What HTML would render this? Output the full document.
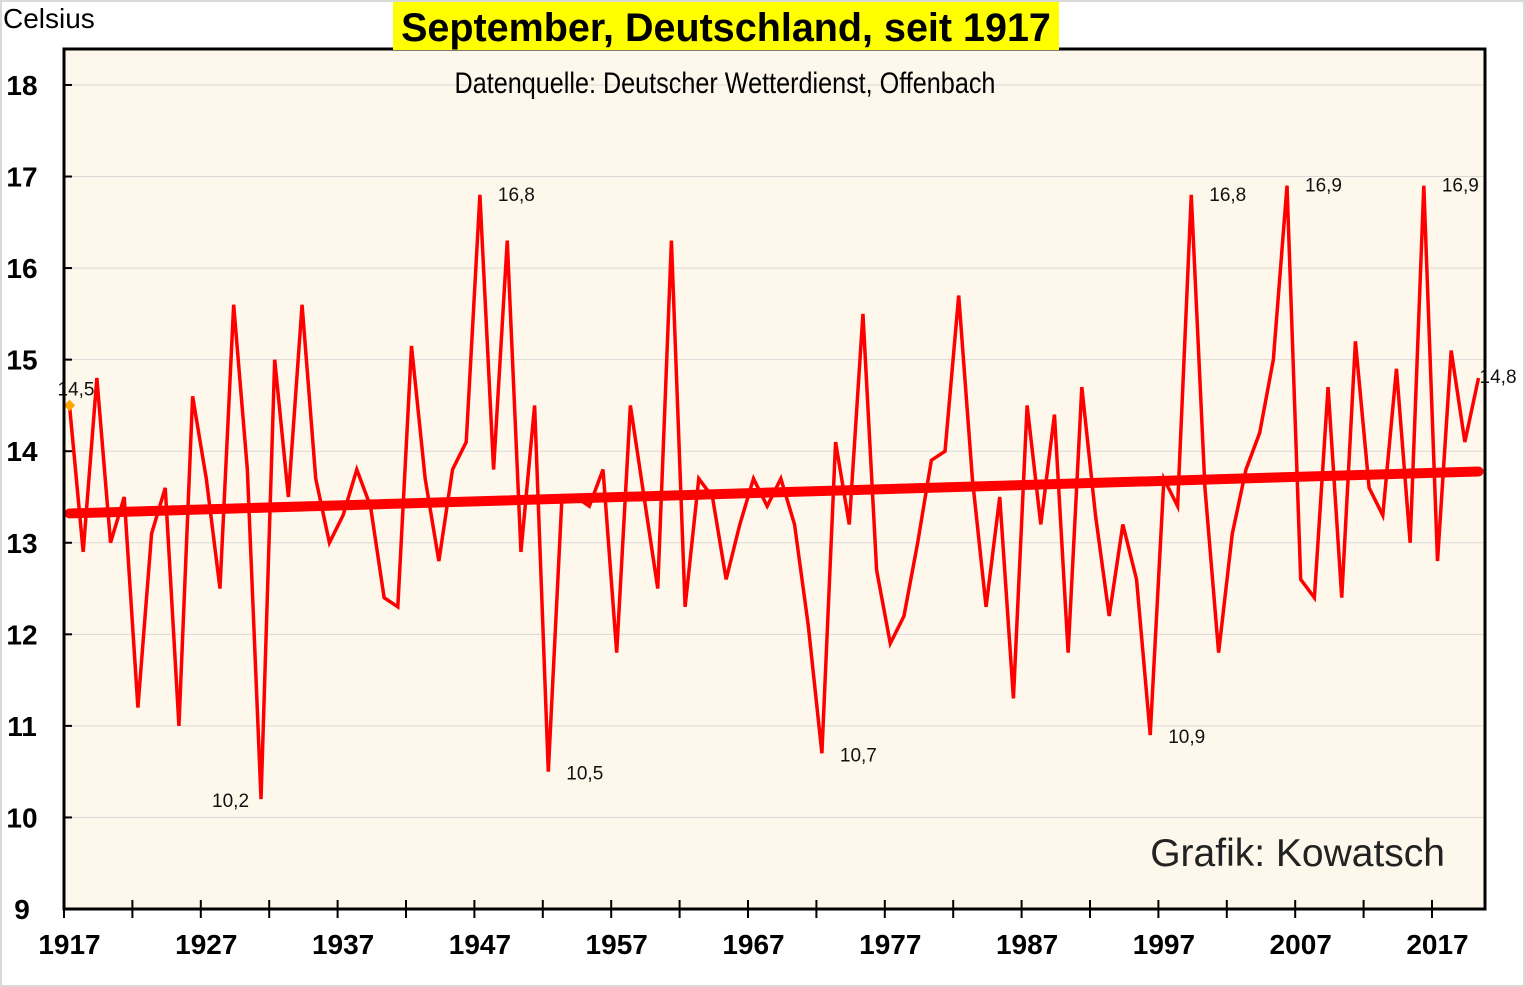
<!DOCTYPE html>
<html><head><meta charset="utf-8"><style>
html,body{margin:0;padding:0;background:#fff}
svg{display:block;font-family:"Liberation Sans",sans-serif}
</style></head><body>
<svg id="c" width="1525" height="987" xmlns="http://www.w3.org/2000/svg">
<rect x="1" y="1" width="1523" height="985" fill="#fff" stroke="#d9d9d9" stroke-width="2"/>
<rect x="64" y="49" width="1421" height="860" fill="#fef8ec"/>
<g id="grid"></g>
<g id="axes"></g>
<g id="series"></g>
<rect x="64" y="49" width="1421" height="860" fill="none" stroke="#000" stroke-width="3"/>
<rect x="393" y="2" width="666" height="48" fill="#ffff00"/>
<text x="726" y="41" text-anchor="middle" font-size="39.5" font-weight="bold">September, Deutschland, seit 1917</text>
<text x="725" y="93" text-anchor="middle" font-size="30" transform="translate(725 0) scale(0.84 1) translate(-725 0)">Datenquelle: Deutscher Wetterdienst, Offenbach</text>
<text x="3" y="28" font-size="28">Celsius</text>
<text x="1445" y="866" text-anchor="end" font-size="39" fill="#222">Grafik: Kowatsch</text>
</svg>
<script>
const years = [];
for (let y = 1917; y <= 2020; y++) years.push(y);
const temps = [14.5,12.9,14.8,13.0,13.5,11.2,13.1,13.6,11.0,14.6,13.7,12.5,15.6,13.8,10.2,15.0,13.5,15.6,13.7,13.0,
13.3,13.8,13.4,12.4,12.3,15.15,13.7,12.8,13.8,14.1,16.8,13.8,16.3,12.9,14.5,10.5,13.5,13.5,13.4,13.8,
11.8,14.5,13.5,12.5,16.3,12.3,13.7,13.5,12.6,13.2,13.7,13.4,13.7,13.2,12.1,10.7,14.1,13.2,15.5,12.7,
11.9,12.2,13.0,13.9,14.0,15.7,13.7,12.3,13.5,11.3,14.5,13.2,14.4,11.8,14.7,13.3,12.2,13.2,12.6,10.9,
13.7,13.4,16.8,13.6,11.8,13.1,13.8,14.2,15.0,16.9,12.6,12.4,14.7,12.4,15.2,13.6,13.3,14.9,13.0,16.9,
12.8,15.1,14.1,14.8];
const yTicks = [9,10,11,12,13,14,15,16,17,18];
const xLabels = [1917,1927,1937,1947,1957,1967,1977,1987,1997,2007,2017];
const annotYears = [1917,1931,1947,1952,1972,1996,1999,2006,2016,2020];
const annotText = ["14,5","10,2","16,8","10,5","10,7","10,9","16,8","16,9","16,9","14,8"];

const X = y => 69.5 + (y - 1917) * 13.68;
const Y = v => 909 - (v - 9) * 91.56;
const NS = "http://www.w3.org/2000/svg";
function mk(tag, parent, attrs){const e=document.createElementNS(NS,tag);for(const k in attrs)e.setAttribute(k,attrs[k]);parent.appendChild(e);return e;}
const grid=document.getElementById('grid'), axes=document.getElementById('axes'), ser=document.getElementById('series');

yTicks.forEach(v=>{
  if(v>9){const g=mk('line',grid,{x1:64,x2:1485,y1:Y(v),y2:Y(v),stroke:'#d9d9d9','stroke-width':1});
  
  }
  const t=mk('line',axes,{x1:64,x2:72,y1:Y(v),y2:Y(v),stroke:'#000','stroke-width':2});
  
  
  const l=mk('text',axes,{x:22,y:Y(v)+10,'text-anchor':'middle','font-size':28,'font-weight':'bold'});
  l.textContent=v;
  
  
});
for(let y=1917;y<=2020;y+=5){
  const tx=X(y)-5.5;
  const t=mk('line',axes,{x1:tx,x2:tx,y1:900,y2:918,stroke:'#000','stroke-width':2});
  
  
}
xLabels.forEach(y=>{
  const l=mk('text',axes,{x:X(y),y:954,'text-anchor':'middle','font-size':28,'font-weight':'bold'});
  l.textContent=y;
  
  
});

const n=years.length;const mx=years.reduce((a,b)=>a+b)/n, my=temps.reduce((a,b)=>a+b)/n;
let sxy=0,sxx=0;years.forEach((y,i)=>{sxy+=(y-mx)*(temps[i]-my);sxx+=(y-mx)*(y-mx);});
const slope=sxy/sxx, icpt=my-slope*mx;
const line=mk('polyline',ser,{points:years.map((y,i)=>X(y)+','+Y(temps[i])).join(' '),fill:'none',stroke:'#ff0000','stroke-width':3.5,'stroke-linejoin':'miter'});


const tr=mk('line',ser,{x1:X(1917),y1:Y(icpt+slope*1917),x2:X(2020),y2:Y(icpt+slope*2020),stroke:'#ff0000','stroke-width':10,'stroke-linecap':'round'});


const mkr=mk('rect',ser,{x:X(1917)-4,y:Y(temps[0])-4,width:8,height:8,fill:'#ffa500',transform:'rotate(45 '+X(1917)+' '+Y(temps[0])+')'});


annotYears.forEach((y,i)=>{
  const v=temps[y-1917];const low=v<12;
  let x=X(y)+18, yy=Y(v)+(low?8:6), anchor='start';
  if(y===1931){x=X(y)-12;anchor='end';}
  if(y===1917){x=X(y)-12;yy=Y(v)-10;}
  if(y===2020){x=X(y)+1;yy=Y(v)+5;}
  const t=mk('text',ser,{x:x,y:yy,'text-anchor':anchor,'font-size':19,fill:'#111'});
  t.textContent=annotText[i];
  
  
});
</script>
</body></html>
